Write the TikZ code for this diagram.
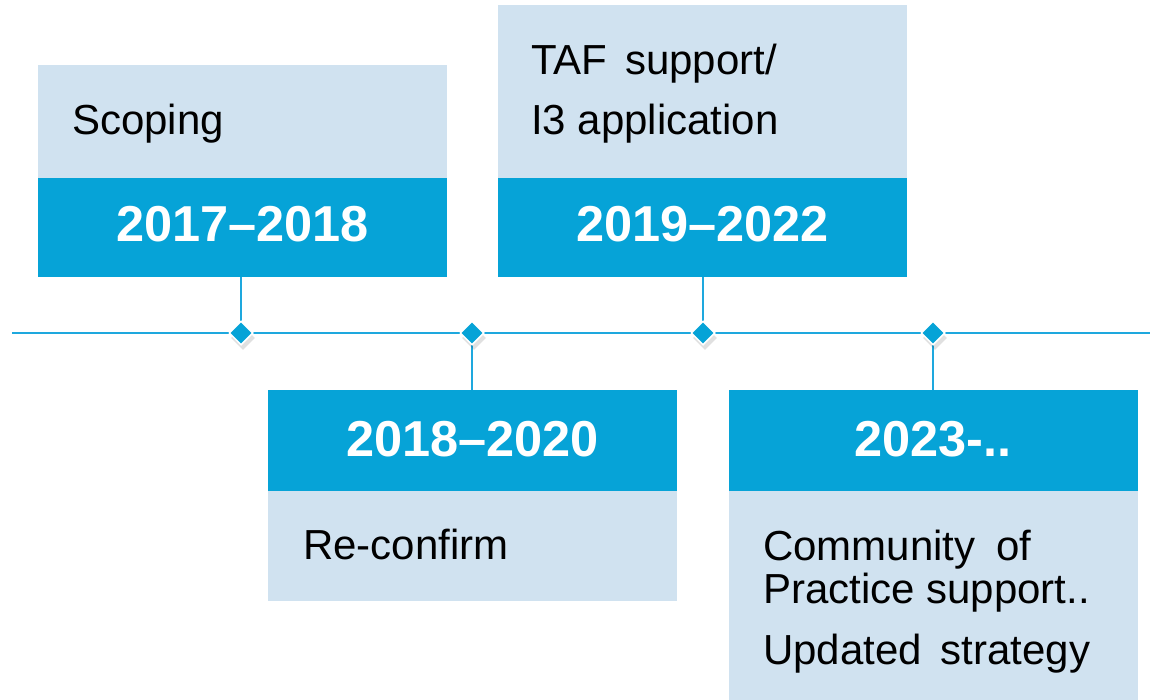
\documentclass[tikz,border=0pt]{standalone}
\usepackage{fontspec}
\setmainfont{Liberation Sans}
\usetikzlibrary{shapes.geometric}
\definecolor{darkblue}{RGB}{6,163,215}
\definecolor{lightblue}{RGB}{208,226,240}
\definecolor{linecol}{RGB}{30,168,222}
\tikzset{
  lightbox/.style={fill=lightblue, draw=none, inner sep=0pt, anchor=north west},
  darkbox/.style={fill=darkblue, draw=none, inner sep=0pt, anchor=north west},
  yeartext/.style={font=\fontsize{50.5}{60}\selectfont\bfseries, text=white, inner sep=0pt},
  bodytext/.style={font=\fontsize{42}{48}\selectfont, text=black, inner sep=0pt, anchor=base west},
  tline/.style={draw=linecol, line width=2.6pt},
  dia/.style={diamond, fill=darkblue, draw=white, line width=1.5pt, inner sep=0pt, minimum size=24pt},
  diashadow/.style={diamond, fill=black, opacity=0.12, draw=none, inner sep=0pt, minimum size=24pt}
}
\begin{document}
\begin{tikzpicture}[x=1pt,y=-1pt]
\useasboundingbox (0,0) rectangle (1150,700);
% boxes
\node[lightbox, minimum width=409pt, minimum height=113pt] (b1l) at (38,65) {};
\node[darkbox, minimum width=409pt, minimum height=99pt] (b1d) at (38,178) {};
\node[yeartext] (y1) at (242.5,224) {2017–2018};
\node[bodytext] (t1) at (72,135) {Scoping};

\node[lightbox, minimum width=409pt, minimum height=173pt] (b2l) at (498,5) {};
\node[darkbox, minimum width=409pt, minimum height=99pt] (b2d) at (498,178) {};
\node[yeartext] (y2) at (702.5,224) {2019–2022};
\node[bodytext] (t2a) at (531,75) {TAF\hspace{6pt} support/};
\node[bodytext] (t2b) at (531,135) {I3 application};

\node[darkbox, minimum width=409pt, minimum height=101pt] (b3d) at (268,390) {};
\node[lightbox, minimum width=409pt, minimum height=110pt] (b3l) at (268,491) {};
\node[yeartext] (y3) at (472.5,439) {2018–2020};
\node[bodytext] (t3) at (303,559) {Re-confirm};

\node[darkbox, minimum width=409pt, minimum height=101pt] (b4d) at (729,390) {};
\node[lightbox, minimum width=409pt, minimum height=215pt] (b4l) at (729,491) {};
\node[yeartext] (y4) at (933,439) {2023-..};
\node[bodytext] (t4a) at (763,560) {Community\hspace{9pt} of};
\node[bodytext] (t4b) at (763,603) {Practice support..};
\node[bodytext] (t4c) at (763,664) {Updated\hspace{7pt} strategy};

% timeline
\coordinate (tl) at (12,333);
\coordinate (tr) at (1150,333);
\draw[tline] (tl) -- (tr);

% connectors
\draw[tline] (b1d.south -| 241,0) -- (241,333);
\draw[tline] (b2d.south -| 703,0) -- (703,333);
\draw[tline] (472,333) -- (b3d.north -| 472,0);
\draw[tline] (933,333) -- (b4d.north -| 933,0);

% diamonds
\node[diashadow] at (243,338) {};
\node[diashadow] at (474,338) {};
\node[diashadow] at (705,338) {};
\node[diashadow] at (935,338) {};

\node[dia] (d1) at (241,333) {};
\node[dia] (d2) at (472,333) {};
\node[dia] (d3) at (703,333) {};
\node[dia] (d4) at (933,333) {};
\end{tikzpicture}
\end{document}
